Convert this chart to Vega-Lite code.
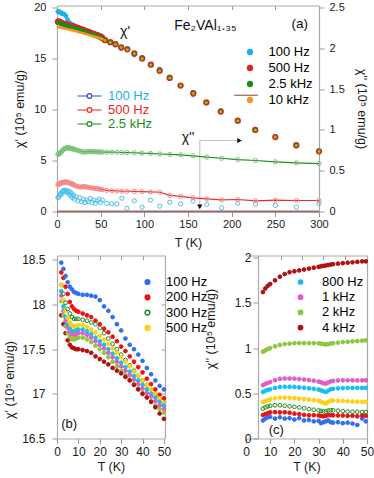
{
"$schema": "https://vega.github.io/schema/vega-lite/v6.json",
"padding": {"left": 3, "top": 1.5, "right": 0, "bottom": 0},
"background": "white",
"config": {
  "font": "Liberation Sans",
  "view": {"stroke": null},
  "axis": {"grid": false, "domainColor": "#aaaaaa", "domainWidth": 1.2, "tickColor": "#999999", "tickSize": 5, "labelColor": "#1a1a1a", "titleColor": "#1a1a1a", "titleFontWeight": "normal", "labelFontSize": 11, "titleFontSize": 12.5, "labelFont": "Liberation Sans", "titleFont": "Liberation Sans", "labelFlush": false},
  "legend": {"labelFont": "Liberation Sans", "labelFontSize": 13}
},
"datasets": {
  "chi1": [
    {"T":1,"a100":19.6,"b500":18.6,"c2500":18.5,"d10k":18.1},
    {"T":2,"a100":19.6,"b500":18.65,"c2500":18.55,"d10k":18.1},
    {"T":3,"a100":19.55,"b500":18.6,"c2500":18.5,"d10k":18.08},
    {"T":4,"a100":19.5,"b500":18.55,"c2500":18.45,"d10k":18.05},
    {"T":5,"a100":19.45,"b500":18.5,"c2500":18.4,"d10k":18.02},
    {"T":6,"a100":19.4,"b500":18.45,"c2500":18.35,"d10k":18.0},
    {"T":8,"a100":19.35,"b500":18.4,"c2500":18.3,"d10k":17.95},
    {"T":10,"a100":19.2,"b500":18.35,"c2500":18.25,"d10k":17.92},
    {"T":12,"a100":18.8,"b500":18.3,"c2500":18.2,"d10k":17.88},
    {"T":14,"a100":18.55,"b500":18.25,"c2500":18.15,"d10k":17.84},
    {"T":16,"a100":18.4,"b500":18.2,"c2500":18.1,"d10k":17.8},
    {"T":18,"a100":18.3,"b500":18.15,"c2500":18.05,"d10k":17.76},
    {"T":20,"a100":18.22,"b500":18.1,"c2500":18.0,"d10k":17.72},
    {"T":22,"a100":18.14,"b500":18.03,"c2500":17.93,"d10k":17.67},
    {"T":24,"a100":18.07,"b500":17.97,"c2500":17.87,"d10k":17.62},
    {"T":26,"a100":18.0,"b500":17.9,"c2500":17.8,"d10k":17.57},
    {"T":28,"a100":17.93,"b500":17.85,"c2500":17.75,"d10k":17.52},
    {"T":30,"a100":17.87,"b500":17.8,"c2500":17.7,"d10k":17.47},
    {"T":32,"a100":17.8,"b500":17.72,"c2500":17.62,"d10k":17.42},
    {"T":34,"a100":17.72,"b500":17.65,"c2500":17.55,"d10k":17.37},
    {"T":36,"a100":17.65,"b500":17.6,"c2500":17.5,"d10k":17.32},
    {"T":38,"a100":17.58,"b500":17.53,"c2500":17.43,"d10k":17.27},
    {"T":40,"a100":17.52,"b500":17.47,"c2500":17.37,"d10k":17.22},
    {"T":42,"a100":17.46,"b500":17.4,"c2500":17.3,"d10k":17.17},
    {"T":44,"a100":17.41,"b500":17.35,"c2500":17.25,"d10k":17.12},
    {"T":46,"a100":17.36,"b500":17.28,"c2500":17.18,"d10k":17.07},
    {"T":48,"a100":17.31,"b500":17.2,"c2500":17.1,"d10k":17.02},
    {"T":50,"a100":17.26,"b500":17.12,"c2500":17.03,"d10k":16.97},
    {"T":52,"a100":17.15,"b500":17.0,"c2500":16.93,"d10k":16.9},
    {"T":55,"a100":16.85,"b500":16.8,"c2500":16.8,"d10k":16.78},
    {"T":61,"a100":16.6,"b500":16.6,"c2500":16.6,"d10k":16.58},
    {"T":67,"a100":16.4,"b500":16.4,"c2500":16.4,"d10k":16.38},
    {"T":73.5,"a100":15.95,"b500":16.1,"c2500":16.1,"d10k":16.08},
    {"T":80.5,"a100":16.0,"b500":15.9,"c2500":15.9,"d10k":15.88},
    {"T":88.5,"a100":15.35,"b500":15.5,"c2500":15.5,"d10k":15.48},
    {"T":97.5,"a100":15.1,"b500":15.0,"c2500":15.0,"d10k":14.98},
    {"T":107.5,"a100":14.4,"b500":14.4,"c2500":14.4,"d10k":14.38},
    {"T":117.5,"a100":13.95,"b500":13.8,"c2500":13.8,"d10k":13.78},
    {"T":129,"a100":13.2,"b500":13.1,"c2500":13.1,"d10k":13.08},
    {"T":141.5,"a100":12.35,"b500":12.35,"c2500":12.35,"d10k":12.33},
    {"T":156,"a100":11.45,"b500":11.6,"c2500":11.6,"d10k":11.58},
    {"T":171,"a100":10.7,"b500":10.7,"c2500":10.7,"d10k":10.68},
    {"T":187.5,"a100":9.9,"b500":9.8,"c2500":9.8,"d10k":9.78},
    {"T":207,"a100":8.9,"b500":8.9,"c2500":8.9,"d10k":8.88},
    {"T":227,"a100":8.0,"b500":8.0,"c2500":8.0,"d10k":7.98},
    {"T":250,"a100":7.3,"b500":7.3,"c2500":7.3,"d10k":7.28},
    {"T":274,"a100":6.4,"b500":6.5,"c2500":6.5,"d10k":6.48},
    {"T":300,"a100":5.9,"b500":5.9,"c2500":5.9,"d10k":5.88}
  ],
  "chi2": [
    {"T":1,"a100":0.17,"b500":0.33,"c2500":0.70},
    {"T":2,"a100":0.18,"b500":0.335,"c2500":0.70},
    {"T":3,"a100":0.20,"b500":0.34,"c2500":0.71},
    {"T":4,"a100":0.22,"b500":0.345,"c2500":0.72},
    {"T":5,"a100":0.21,"b500":0.35,"c2500":0.735},
    {"T":6,"a100":0.24,"b500":0.355,"c2500":0.745},
    {"T":7,"a100":0.25,"b500":0.358,"c2500":0.755},
    {"T":8,"a100":0.26,"b500":0.36,"c2500":0.765},
    {"T":9,"a100":0.24,"b500":0.362,"c2500":0.772},
    {"T":10,"a100":0.26,"b500":0.362,"c2500":0.777},
    {"T":11,"a100":0.25,"b500":0.36,"c2500":0.78},
    {"T":12,"a100":0.23,"b500":0.358,"c2500":0.78},
    {"T":13,"a100":0.25,"b500":0.355,"c2500":0.78},
    {"T":14,"a100":0.21,"b500":0.352,"c2500":0.778},
    {"T":15,"a100":0.24,"b500":0.348,"c2500":0.776},
    {"T":16,"a100":0.19,"b500":0.343,"c2500":0.774},
    {"T":17,"a100":0.22,"b500":0.338,"c2500":0.77},
    {"T":18,"a100":0.17,"b500":0.333,"c2500":0.768},
    {"T":19,"a100":0.20,"b500":0.328,"c2500":0.765},
    {"T":20,"a100":0.15,"b500":0.322,"c2500":0.762},
    {"T":22,"a100":0.18,"b500":0.312,"c2500":0.755},
    {"T":24,"a100":0.13,"b500":0.305,"c2500":0.748},
    {"T":26,"a100":0.17,"b500":0.30,"c2500":0.742},
    {"T":28,"a100":0.12,"b500":0.30,"c2500":0.735},
    {"T":30,"a100":0.15,"b500":0.305,"c2500":0.73},
    {"T":32,"a100":0.11,"b500":0.303,"c2500":0.727},
    {"T":34,"a100":0.14,"b500":0.30,"c2500":0.735},
    {"T":36,"a100":0.12,"b500":0.297,"c2500":0.735},
    {"T":38,"a100":0.16,"b500":0.292,"c2500":0.735},
    {"T":40,"a100":0.11,"b500":0.289,"c2500":0.734},
    {"T":42,"a100":0.14,"b500":0.286,"c2500":0.733},
    {"T":44,"a100":0.10,"b500":0.282,"c2500":0.732},
    {"T":46,"a100":0.13,"b500":0.279,"c2500":0.731},
    {"T":48,"a100":0.15,"b500":0.276,"c2500":0.73},
    {"T":50,"a100":0.11,"b500":0.272,"c2500":0.729},
    {"T":52,"a100":0.14,"b500":0.268,"c2500":0.728},
    {"T":57,"a100":0.10,"b500":0.26,"c2500":0.727},
    {"T":62.7,"a100":0.094,"b500":0.256,"c2500":0.727},
    {"T":68.5,"a100":0.094,"b500":0.252,"c2500":0.726},
    {"T":74.2,"a100":0.163,"b500":0.25,"c2500":0.723},
    {"T":80,"a100":0.04,"b500":0.248,"c2500":0.722},
    {"T":88.5,"a100":0.13,"b500":0.246,"c2500":0.72},
    {"T":97.3,"a100":0.053,"b500":0.244,"c2500":0.715},
    {"T":107,"a100":0.139,"b500":0.24,"c2500":0.712},
    {"T":117.7,"a100":0.065,"b500":0.236,"c2500":0.705},
    {"T":129.2,"a100":0.114,"b500":0.197,"c2500":0.70},
    {"T":141.6,"a100":0.094,"b500":0.185,"c2500":0.695},
    {"T":155.8,"a100":0.126,"b500":0.168,"c2500":0.683},
    {"T":171.5,"a100":0.086,"b500":0.155,"c2500":0.666},
    {"T":188.5,"a100":0.045,"b500":0.143,"c2500":0.653},
    {"T":207,"a100":0.10,"b500":0.147,"c2500":0.637},
    {"T":227.3,"a100":0.09,"b500":0.131,"c2500":0.625},
    {"T":250,"a100":0.074,"b500":0.139,"c2500":0.609},
    {"T":274.2,"a100":0.053,"b500":0.135,"c2500":0.597},
    {"T":300,"a100":0.10,"b500":0.135,"c2500":0.588}
  ],
  "chi2hf": [{"T":0,"v":0},{"T":100,"v":0},{"T":200,"v":0},{"T":300,"v":0}],
  "pb": [
    {"T":2,"100 Hz":18.47,"200 Hz":18.36,"300 Hz":18.22,"500 Hz":18.22,"800 Hz":18.15,"1 kHz":18.10,"2 kHz":18.04,"4 kHz":17.88},
    {"T":3,"100 Hz":18.40,"200 Hz":18.30,"300 Hz":18.12,"500 Hz":18.05,"800 Hz":17.98,"1 kHz":17.93,"2 kHz":17.88,"4 kHz":17.78},
    {"T":4,"100 Hz":18.32,"200 Hz":18.20,"300 Hz":18.02,"500 Hz":17.93,"800 Hz":17.86,"1 kHz":17.82,"2 kHz":17.76,"4 kHz":17.68},
    {"T":5,"100 Hz":18.25,"200 Hz":18.12,"300 Hz":17.95,"500 Hz":17.85,"800 Hz":17.78,"1 kHz":17.74,"2 kHz":17.68,"4 kHz":17.60},
    {"T":6,"100 Hz":18.20,"200 Hz":18.03,"300 Hz":17.90,"500 Hz":17.80,"800 Hz":17.73,"1 kHz":17.70,"2 kHz":17.64,"4 kHz":17.55},
    {"T":7,"100 Hz":18.17,"200 Hz":17.98,"300 Hz":17.86,"500 Hz":17.77,"800 Hz":17.70,"1 kHz":17.67,"2 kHz":17.61,"4 kHz":17.52},
    {"T":8,"100 Hz":18.14,"200 Hz":17.95,"300 Hz":17.84,"500 Hz":17.75,"800 Hz":17.70,"1 kHz":17.66,"2 kHz":17.61,"4 kHz":17.51},
    {"T":9,"100 Hz":18.13,"200 Hz":17.93,"300 Hz":17.84,"500 Hz":17.76,"800 Hz":17.71,"1 kHz":17.67,"2 kHz":17.62,"4 kHz":17.50},
    {"T":10,"100 Hz":18.12,"200 Hz":17.92,"300 Hz":17.84,"500 Hz":17.77,"800 Hz":17.72,"1 kHz":17.68,"2 kHz":17.63,"4 kHz":17.50},
    {"T":12,"100 Hz":18.11,"200 Hz":17.90,"300 Hz":17.83,"500 Hz":17.77,"800 Hz":17.72,"1 kHz":17.68,"2 kHz":17.63,"4 kHz":17.49},
    {"T":14,"100 Hz":18.11,"200 Hz":17.88,"300 Hz":17.82,"500 Hz":17.75,"800 Hz":17.70,"1 kHz":17.66,"2 kHz":17.61,"4 kHz":17.48},
    {"T":16,"100 Hz":18.10,"200 Hz":17.86,"300 Hz":17.80,"500 Hz":17.72,"800 Hz":17.67,"1 kHz":17.63,"2 kHz":17.58,"4 kHz":17.46},
    {"T":18,"100 Hz":18.09,"200 Hz":17.82,"300 Hz":17.78,"500 Hz":17.69,"800 Hz":17.63,"1 kHz":17.59,"2 kHz":17.54,"4 kHz":17.42},
    {"T":20,"100 Hz":18.05,"200 Hz":17.78,"300 Hz":17.74,"500 Hz":17.65,"800 Hz":17.59,"1 kHz":17.55,"2 kHz":17.50,"4 kHz":17.39},
    {"T":22,"100 Hz":17.98,"200 Hz":17.73,"300 Hz":17.68,"500 Hz":17.61,"800 Hz":17.55,"1 kHz":17.51,"2 kHz":17.46,"4 kHz":17.36},
    {"T":24,"100 Hz":17.93,"200 Hz":17.69,"300 Hz":17.62,"500 Hz":17.56,"800 Hz":17.50,"1 kHz":17.46,"2 kHz":17.41,"4 kHz":17.33},
    {"T":26,"100 Hz":17.86,"200 Hz":17.64,"300 Hz":17.56,"500 Hz":17.51,"800 Hz":17.45,"1 kHz":17.41,"2 kHz":17.36,"4 kHz":17.29},
    {"T":28,"100 Hz":17.78,"200 Hz":17.59,"300 Hz":17.50,"500 Hz":17.46,"800 Hz":17.40,"1 kHz":17.36,"2 kHz":17.31,"4 kHz":17.26},
    {"T":30,"100 Hz":17.71,"200 Hz":17.53,"300 Hz":17.44,"500 Hz":17.41,"800 Hz":17.35,"1 kHz":17.31,"2 kHz":17.26,"4 kHz":17.23},
    {"T":32,"100 Hz":17.62,"200 Hz":17.48,"300 Hz":17.38,"500 Hz":17.36,"800 Hz":17.30,"1 kHz":17.26,"2 kHz":17.21,"4 kHz":17.19},
    {"T":34,"100 Hz":17.55,"200 Hz":17.42,"300 Hz":17.32,"500 Hz":17.31,"800 Hz":17.25,"1 kHz":17.21,"2 kHz":17.16,"4 kHz":17.15},
    {"T":36,"100 Hz":17.50,"200 Hz":17.36,"300 Hz":17.26,"500 Hz":17.25,"800 Hz":17.20,"1 kHz":17.16,"2 kHz":17.11,"4 kHz":17.10},
    {"T":38,"100 Hz":17.44,"200 Hz":17.30,"300 Hz":17.20,"500 Hz":17.20,"800 Hz":17.15,"1 kHz":17.11,"2 kHz":17.06,"4 kHz":17.05},
    {"T":40,"100 Hz":17.37,"200 Hz":17.24,"300 Hz":17.15,"500 Hz":17.15,"800 Hz":17.10,"1 kHz":17.06,"2 kHz":17.01,"4 kHz":17.00},
    {"T":42,"100 Hz":17.29,"200 Hz":17.17,"300 Hz":17.10,"500 Hz":17.10,"800 Hz":17.05,"1 kHz":17.01,"2 kHz":16.96,"4 kHz":16.96},
    {"T":44,"100 Hz":17.22,"200 Hz":17.11,"300 Hz":17.05,"500 Hz":17.05,"800 Hz":17.00,"1 kHz":16.97,"2 kHz":16.92,"4 kHz":16.91},
    {"T":46,"100 Hz":17.15,"200 Hz":17.05,"300 Hz":17.00,"500 Hz":17.00,"800 Hz":16.96,"1 kHz":16.92,"2 kHz":16.87,"4 kHz":16.85},
    {"T":48,"100 Hz":17.09,"200 Hz":16.99,"300 Hz":16.95,"500 Hz":16.95,"800 Hz":16.91,"1 kHz":16.87,"2 kHz":16.83,"4 kHz":16.78},
    {"T":50,"100 Hz":17.05,"200 Hz":16.95,"300 Hz":16.90,"500 Hz":16.90,"800 Hz":16.87,"1 kHz":16.83,"2 kHz":16.79,"4 kHz":16.72}
  ],
  "pc": [
    {"T":7,"100 Hz":0.20,"200 Hz":0.26,"300 Hz":0.33,"500 Hz":0.405,"800 Hz":0.515,"1 kHz":0.59,"2 kHz":0.96,"4 kHz":1.62},
    {"T":8,"100 Hz":0.22,"200 Hz":0.27,"300 Hz":0.345,"500 Hz":0.415,"800 Hz":0.528,"1 kHz":0.605,"2 kHz":0.975,"4 kHz":1.66},
    {"T":9,"100 Hz":0.235,"200 Hz":0.28,"300 Hz":0.355,"500 Hz":0.425,"800 Hz":0.538,"1 kHz":0.615,"2 kHz":0.99,"4 kHz":1.69},
    {"T":10,"100 Hz":0.24,"200 Hz":0.29,"300 Hz":0.362,"500 Hz":0.432,"800 Hz":0.545,"1 kHz":0.625,"2 kHz":1.0,"4 kHz":1.71},
    {"T":12,"100 Hz":0.22,"200 Hz":0.292,"300 Hz":0.368,"500 Hz":0.445,"800 Hz":0.56,"1 kHz":0.645,"2 kHz":1.02,"4 kHz":1.75},
    {"T":14,"100 Hz":0.235,"200 Hz":0.29,"300 Hz":0.368,"500 Hz":0.452,"800 Hz":0.57,"1 kHz":0.66,"2 kHz":1.035,"4 kHz":1.79},
    {"T":16,"100 Hz":0.22,"200 Hz":0.29,"300 Hz":0.362,"500 Hz":0.452,"800 Hz":0.572,"1 kHz":0.663,"2 kHz":1.045,"4 kHz":1.82},
    {"T":18,"100 Hz":0.225,"200 Hz":0.285,"300 Hz":0.356,"500 Hz":0.45,"800 Hz":0.572,"1 kHz":0.663,"2 kHz":1.05,"4 kHz":1.84},
    {"T":20,"100 Hz":0.21,"200 Hz":0.275,"300 Hz":0.35,"500 Hz":0.447,"800 Hz":0.57,"1 kHz":0.662,"2 kHz":1.055,"4 kHz":1.85},
    {"T":22,"100 Hz":0.225,"200 Hz":0.27,"300 Hz":0.343,"500 Hz":0.442,"800 Hz":0.566,"1 kHz":0.658,"2 kHz":1.056,"4 kHz":1.86},
    {"T":24,"100 Hz":0.20,"200 Hz":0.262,"300 Hz":0.335,"500 Hz":0.436,"800 Hz":0.561,"1 kHz":0.652,"2 kHz":1.056,"4 kHz":1.87},
    {"T":26,"100 Hz":0.205,"200 Hz":0.257,"300 Hz":0.325,"500 Hz":0.43,"800 Hz":0.556,"1 kHz":0.646,"2 kHz":1.056,"4 kHz":1.88},
    {"T":28,"100 Hz":0.19,"200 Hz":0.258,"300 Hz":0.318,"500 Hz":0.424,"800 Hz":0.55,"1 kHz":0.64,"2 kHz":1.055,"4 kHz":1.89},
    {"T":30,"100 Hz":0.195,"200 Hz":0.255,"300 Hz":0.31,"500 Hz":0.417,"800 Hz":0.542,"1 kHz":0.63,"2 kHz":1.053,"4 kHz":1.90},
    {"T":31,"100 Hz":0.17,"200 Hz":0.25,"300 Hz":0.305,"500 Hz":0.408,"800 Hz":0.533,"1 kHz":0.622,"2 kHz":1.05,"4 kHz":1.905},
    {"T":32,"100 Hz":0.18,"200 Hz":0.245,"300 Hz":0.30,"500 Hz":0.395,"800 Hz":0.522,"1 kHz":0.612,"2 kHz":1.045,"4 kHz":1.91},
    {"T":33,"100 Hz":0.19,"200 Hz":0.25,"300 Hz":0.298,"500 Hz":0.387,"800 Hz":0.515,"1 kHz":0.607,"2 kHz":1.04,"4 kHz":1.915},
    {"T":34,"100 Hz":0.20,"200 Hz":0.26,"300 Hz":0.31,"500 Hz":0.405,"800 Hz":0.53,"1 kHz":0.62,"2 kHz":1.045,"4 kHz":1.92},
    {"T":35,"100 Hz":0.18,"200 Hz":0.258,"300 Hz":0.313,"500 Hz":0.418,"800 Hz":0.545,"1 kHz":0.632,"2 kHz":1.05,"4 kHz":1.925},
    {"T":36,"100 Hz":0.175,"200 Hz":0.257,"300 Hz":0.312,"500 Hz":0.42,"800 Hz":0.55,"1 kHz":0.638,"2 kHz":1.055,"4 kHz":1.93},
    {"T":38,"100 Hz":0.18,"200 Hz":0.255,"300 Hz":0.308,"500 Hz":0.418,"800 Hz":0.555,"1 kHz":0.642,"2 kHz":1.06,"4 kHz":1.935},
    {"T":40,"100 Hz":0.17,"200 Hz":0.255,"300 Hz":0.303,"500 Hz":0.416,"800 Hz":0.558,"1 kHz":0.644,"2 kHz":1.067,"4 kHz":1.94},
    {"T":42,"100 Hz":0.175,"200 Hz":0.25,"300 Hz":0.298,"500 Hz":0.413,"800 Hz":0.56,"1 kHz":0.644,"2 kHz":1.07,"4 kHz":1.945},
    {"T":44,"100 Hz":0.165,"200 Hz":0.252,"300 Hz":0.296,"500 Hz":0.41,"800 Hz":0.56,"1 kHz":0.644,"2 kHz":1.075,"4 kHz":1.95},
    {"T":46,"100 Hz":0.15,"200 Hz":0.245,"300 Hz":0.295,"500 Hz":0.408,"800 Hz":0.56,"1 kHz":0.644,"2 kHz":1.078,"4 kHz":1.955},
    {"T":48,"100 Hz":0.22,"200 Hz":0.255,"300 Hz":0.294,"500 Hz":0.406,"800 Hz":0.56,"1 kHz":0.644,"2 kHz":1.083,"4 kHz":1.96},
    {"T":49.5,"100 Hz":0.19,"200 Hz":0.25,"300 Hz":0.294,"500 Hz":0.405,"800 Hz":0.56,"1 kHz":0.644,"2 kHz":1.086,"4 kHz":1.96}
  ]
},
"bounds": "flush",
"spacing": 44,
"resolve": {"scale": {"x": "independent", "y": "independent", "color": "independent", "fill": "independent", "stroke": "independent"}},
"vconcat": [
  {
    "width": 262,
    "height": 206,
    "resolve": {"scale": {"y": "independent", "color": "independent", "fill": "independent", "stroke": "independent"}, "axis": {"x": "independent", "y": "independent"}},
    "layer": [
      {
        "layer": [
          {
            "data": {"name": "chi1"},
            "transform": [{"fold": ["a100", "b500", "c2500", "d10k"], "as": ["f", "v"]}, {"filter": "datum.f == 'a100'"}],
            "mark": {"type": "circle", "opacity": 1, "size": 24},
            "encoding": {
              "x": {"field": "T", "type": "quantitative", "scale": {"domain": [0, 300], "nice": false}, "axis": {"orient": "bottom", "values": [0, 50, 100, 150, 200, 250, 300], "title": "T (K)", "labelPadding": 1.5, "titlePadding": 7}},
              "y": {"field": "v", "type": "quantitative", "scale": {"domain": [0, 20.2], "nice": false}, "axis": {"orient": "left", "values": [0, 5, 10, 15, 20], "title": "χ' (10⁵ emu/g)", "labelPadding": 6, "titlePadding": 7}},
              "fill": {"field": "f", "type": "nominal", "scale": {"domain": ["a100", "b500", "c2500", "d10k"], "range": ["#1ab0e8", "#ee1c24", "#1a8c1a", "#f7941d"]},
                "legend": {"title": null, "orient": "none", "legendX": 186.5, "legendY": 40, "padding": 0, "labelFontSize": 13, "labelOffset": 12, "rowPadding": 2, "symbolSize": 40, "symbolType": "circle",
                  "labelExpr": "datum.value=='a100'?'100 Hz':datum.value=='b500'?'500 Hz':datum.value=='c2500'?'2.5 kHz':'10 kHz'",
                  "encode": {
                    "labels": {"update": {"fill": {"signal": "datum.value=='a100'?'#1ab0e8':datum.value=='b500'?'#ee1c24':datum.value=='c2500'?'#1a8c1a':'#f7941d'"}}},
                    "symbols": {"update": {"size": {"signal": "datum.value=='b500'?42:datum.value=='d10k'?12:24"}}}
                  }}}
            }
          },
          {
            "data": {"name": "chi1"},
            "transform": [{"fold": ["a100", "b500", "c2500", "d10k"], "as": ["f", "v"]}, {"filter": "datum.f == 'b500'"}],
            "mark": {"type": "circle", "opacity": 1, "size": 40, "color": "#ee1c24"},
            "encoding": {
              "x": {"field": "T", "type": "quantitative", "scale": {"domain": [0, 300], "nice": false}},
              "y": {"field": "v", "type": "quantitative", "scale": {"domain": [0, 20.2], "nice": false}}
            }
          },
          {
            "data": {"name": "chi1"},
            "transform": [{"fold": ["a100", "b500", "c2500", "d10k"], "as": ["f", "v"]}, {"filter": "datum.f == 'c2500'"}],
            "mark": {"type": "circle", "opacity": 1, "size": 20, "color": "#1a8c1a"},
            "encoding": {
              "x": {"field": "T", "type": "quantitative", "scale": {"domain": [0, 300], "nice": false}},
              "y": {"field": "v", "type": "quantitative", "scale": {"domain": [0, 20.2], "nice": false}}
            }
          },
          {
            "data": {"name": "chi1"},
            "transform": [{"fold": ["a100", "b500", "c2500", "d10k"], "as": ["f", "v"]}, {"filter": "datum.f == 'd10k'"}],
            "mark": {"type": "circle", "opacity": 1, "size": 8, "color": "#f7941d"},
            "encoding": {
              "x": {"field": "T", "type": "quantitative", "scale": {"domain": [0, 300], "nice": false}},
              "y": {"field": "v", "type": "quantitative", "scale": {"domain": [0, 20.2], "nice": false}}
            }
          },
          {
            "data": {"values": [{}]},
            "mark": {"type": "rule", "color": "#a05a5a", "strokeWidth": 1.2},
            "encoding": {"x": {"datum": 203, "type": "quantitative", "scale": {"domain": [0, 300], "nice": false}}, "x2": {"datum": 230}, "y": {"datum": 11.4, "type": "quantitative", "scale": {"domain": [0, 20.2], "nice": false}}}
          },
          {
            "data": {"values": [{}]},
            "mark": {"type": "text", "fontSize": 14, "color": "#111111"},
            "encoding": {"x": {"datum": 78, "type": "quantitative", "scale": {"domain": [0, 300], "nice": false}}, "y": {"datum": 17.6, "type": "quantitative", "scale": {"domain": [0, 20.2], "nice": false}}, "text": {"value": "χ'"}}
          },
          {
            "data": {"values": [{}]},
            "mark": {"type": "text", "fontSize": 14, "color": "#111111"},
            "encoding": {"x": {"datum": 170, "type": "quantitative", "scale": {"domain": [0, 300], "nice": false}}, "y": {"datum": 18.2, "type": "quantitative", "scale": {"domain": [0, 20.2], "nice": false}}, "text": {"value": "Fe₂VAl₁.₃₅"}}
          },
          {
            "data": {"values": [{}]},
            "mark": {"type": "text", "fontSize": 13.5, "color": "#111111"},
            "encoding": {"x": {"datum": 278, "type": "quantitative", "scale": {"domain": [0, 300], "nice": false}}, "y": {"datum": 18.4, "type": "quantitative", "scale": {"domain": [0, 20.2], "nice": false}}, "text": {"value": "(a)"}}
          },
          {
            "data": {"values": [{}]},
            "mark": {"type": "text", "fontSize": 14, "color": "#111111"},
            "encoding": {"x": {"datum": 150, "type": "quantitative", "scale": {"domain": [0, 300], "nice": false}}, "y": {"datum": 7.2, "type": "quantitative", "scale": {"domain": [0, 20.2], "nice": false}}, "text": {"value": "χ''"}}
          },
          {
            "data": {"values": [{}]},
            "mark": {"type": "rule", "color": "#c4c4c4", "strokeWidth": 1.2},
            "encoding": {"x": {"datum": 163.5, "type": "quantitative", "scale": {"domain": [0, 300], "nice": false}}, "x2": {"datum": 208}, "y": {"datum": 6.96, "type": "quantitative", "scale": {"domain": [0, 20.2], "nice": false}}}
          },
          {
            "data": {"values": [{}]},
            "mark": {"type": "rule", "color": "#c4c4c4", "strokeWidth": 1.2},
            "encoding": {"x": {"datum": 163.5, "type": "quantitative", "scale": {"domain": [0, 300], "nice": false}}, "y": {"datum": 6.96, "type": "quantitative", "scale": {"domain": [0, 20.2], "nice": false}}, "y2": {"datum": 0.5}}
          },
          {
            "data": {"values": [{}]},
            "mark": {"type": "point", "shape": "triangle-right", "filled": true, "color": "#111111", "size": 28, "opacity": 1},
            "encoding": {"x": {"datum": 209, "type": "quantitative", "scale": {"domain": [0, 300], "nice": false}}, "y": {"datum": 6.96, "type": "quantitative", "scale": {"domain": [0, 20.2], "nice": false}}}
          },
          {
            "data": {"values": [{}]},
            "mark": {"type": "point", "shape": "triangle-down", "filled": true, "color": "#111111", "size": 28, "opacity": 1},
            "encoding": {"x": {"datum": 163.5, "type": "quantitative", "scale": {"domain": [0, 300], "nice": false}}, "y": {"datum": 0.45, "type": "quantitative", "scale": {"domain": [0, 20.2], "nice": false}}}
          }
        ]
      },
      {
        "encoding": {
          "x": {"field": "T", "type": "quantitative", "scale": {"domain": [0, 300], "nice": false}, "axis": {"orient": "top", "labels": false, "title": null, "tickSize": -4, "values": [0, 50, 100, 150, 200, 250, 300]}},
          "y": {"field": "v", "type": "quantitative", "scale": {"domain": [0, 2.525], "nice": false}, "axis": {"orient": "right", "values": [0, 0.5, 1, 1.5, 2, 2.5], "format": "~g", "title": "χ'' (10⁵ emu/g)", "labelPadding": 5, "titlePadding": 10}}
        },
        "layer": [
          {
            "data": {"name": "chi2"},
            "transform": [{"fold": ["a100", "b500", "c2500"], "as": ["f", "v"]}, {"filter": "datum.f != 'a100'"}],
            "mark": {"type": "line", "strokeWidth": 1.2},
            "encoding": {
              "color": {"field": "f", "type": "nominal", "scale": {"domain": ["a100", "b500", "c2500"], "range": ["#3a46d8", "#ee2b2b", "#1e8c1e"]},
                "legend": {"title": null, "orient": "none", "legendX": 26, "legendY": 84, "padding": 0, "symbolType": "M-3,0L-0.6,0M0.6,0L3,0M0.6,0A0.6,0.6,0,1,1,-0.6,0A0.6,0.6,0,1,1,0.6,0", "symbolSize": 64, "symbolStrokeWidth": 1.2, "labelFontSize": 13, "labelOffset": 12, "rowPadding": 0,
                  "labelExpr": "datum.value=='a100'?'100 Hz':datum.value=='b500'?'500 Hz':'2.5 kHz'",
                  "encode": {"labels": {"update": {"fill": {"signal": "datum.value=='a100'?'#1ab0e8':datum.value=='b500'?'#ee1c24':'#1a8c1a'"}}}, "symbols": {"update": {"fill": {"value": "transparent"}}}}}}
            }
          },
          {
            "data": {"name": "chi2"},
            "transform": [{"fold": ["a100", "b500", "c2500"], "as": ["f", "v"]}],
            "mark": {"type": "point", "filled": false, "size": 18, "strokeWidth": 1, "opacity": 1},
            "encoding": {
              "stroke": {"field": "f", "type": "nominal", "scale": {"domain": ["a100", "b500", "c2500"], "range": ["#4cc0f0", "#f58a8a", "#7cc47c"]}, "legend": null}
            }
          },
          {
            "data": {"name": "chi2hf"},
            "mark": {"type": "line", "color": "#a06a6a", "strokeWidth": 2},
            "encoding": {}
          }
        ]
      }
    ]
  },
  {
    "hconcat": [
      {
        "width": 108,
        "height": 183,
        "resolve": {"axis": {"x": "independent", "y": "independent"}},
        "layer": [
          {
            "data": {"name": "pb"},
            "transform": [{"fold": ["100 Hz", "200 Hz", "300 Hz", "500 Hz", "800 Hz", "1 kHz", "2 kHz", "4 kHz"], "as": ["f", "v"]}],
            "mark": {"type": "point", "size": 14, "strokeWidth": 1, "opacity": 1},
            "encoding": {
              "x": {"field": "T", "type": "quantitative", "scale": {"domain": [0, 50.5], "nice": false}, "axis": {"values": [0, 10, 20, 30, 40, 50], "title": "T (K)", "labelFontSize": 12, "labelPadding": 3, "titlePadding": 3}},
              "y": {"field": "v", "type": "quantitative", "scale": {"domain": [16.5, 18.55], "nice": false}, "axis": {"values": [16.5, 17, 17.5, 18, 18.5], "format": "~g", "title": "χ' (10⁵ emu/g)", "labelFontSize": 12, "labelPadding": 7, "titlePadding": 5, "titleY": 124}},
              "fill": {"field": "f", "type": "nominal", "scale": {"domain": ["100 Hz", "200 Hz", "300 Hz", "500 Hz", "800 Hz", "1 kHz", "2 kHz", "4 kHz"], "range": ["#2f6ff0", "#ee1111", "transparent", "#fcd116", "#14c0f0", "#e05cc8", "#8dc63f", "#b01010"]},
                "legend": {"title": null, "orient": "none", "legendX": 84, "legendY": 20, "padding": 0, "values": ["100 Hz", "200 Hz", "300 Hz", "500 Hz"], "labelFontSize": 13, "labelOffset": 12, "rowPadding": 1.3, "symbolSize": 22,
                  "encode": {"labels": {"update": {"fill": {"signal": "datum.value=='100 Hz'?'#2f6ff0':datum.value=='200 Hz'?'#ee1111':datum.value=='300 Hz'?'#1e8c1e':'#f5c800'"}}}}}},
              "stroke": {"field": "f", "type": "nominal", "scale": {"domain": ["100 Hz", "200 Hz", "300 Hz", "500 Hz", "800 Hz", "1 kHz", "2 kHz", "4 kHz"], "range": ["#2f6ff0", "#ee1111", "#1e8c1e", "#fcd116", "#14c0f0", "#e05cc8", "#8dc63f", "#b01010"]},
                "legend": {"title": null, "orient": "none", "legendX": 84, "legendY": 20, "padding": 0, "values": ["100 Hz", "200 Hz", "300 Hz", "500 Hz"], "labelFontSize": 13, "labelOffset": 12, "rowPadding": 1.3, "symbolSize": 22}}
            }
          },
          {
            "data": {"values": [{}]},
            "mark": {"type": "text", "fontSize": 13, "color": "#111111"},
            "encoding": {
              "x": {"datum": 5.7, "type": "quantitative", "scale": {"domain": [0, 50.5], "nice": false}, "axis": {"orient": "top", "labels": false, "title": null, "tickSize": -4, "values": [10, 20, 30, 40]}},
              "y": {"datum": 16.66, "type": "quantitative", "scale": {"domain": [16.5, 18.55], "nice": false}, "axis": {"orient": "right", "labels": false, "title": null, "tickSize": -4, "values": [17, 17.5, 18]}},
              "text": {"value": "(b)"}
            }
          }
        ]
      },
      {
        "width": 121,
        "height": 183,
        "resolve": {"axis": {"x": "independent", "y": "independent"}},
        "layer": [
          {
            "data": {"name": "pc"},
            "transform": [{"fold": ["100 Hz", "200 Hz", "300 Hz", "500 Hz", "800 Hz", "1 kHz", "2 kHz", "4 kHz"], "as": ["f", "v"]}],
            "mark": {"type": "point", "size": 14, "strokeWidth": 1, "opacity": 1},
            "encoding": {
              "x": {"field": "T", "type": "quantitative", "scale": {"domain": [0, 50], "nice": false}, "axis": {"values": [0, 10, 20, 30, 40, 50], "title": "T (K)", "labelFontSize": 12, "labelPadding": 3, "titlePadding": 3}},
              "y": {"field": "v", "type": "quantitative", "scale": {"domain": [0, 2.025], "nice": false}, "axis": {"values": [0, 0.5, 1, 1.5, 2], "format": "~g", "title": "χ'' (10⁵ emu/g)", "labelFontSize": 12, "labelPadding": 2, "offset": -12, "titleX": -41, "titleY": 73}},
              "fill": {"field": "f", "type": "nominal", "scale": {"domain": ["100 Hz", "200 Hz", "300 Hz", "500 Hz", "800 Hz", "1 kHz", "2 kHz", "4 kHz"], "range": ["#2f6ff0", "#ee1111", "transparent", "#fcd116", "#14c0f0", "#e05cc8", "#8dc63f", "#b01010"]},
                "legend": {"title": null, "orient": "none", "legendX": 48, "legendY": 20, "padding": 0, "values": ["800 Hz", "1 kHz", "2 kHz", "4 kHz"], "labelFontSize": 13, "labelOffset": 15, "rowPadding": 1.2, "symbolSize": 18,
                  "encode": {"labels": {"update": {"fill": {"signal": "datum.value=='800 Hz'?'#14c0f0':datum.value=='1 kHz'?'#e05cc8':datum.value=='2 kHz'?'#8dc63f':'#c01010'"}}}}}},
              "stroke": {"field": "f", "type": "nominal", "scale": {"domain": ["100 Hz", "200 Hz", "300 Hz", "500 Hz", "800 Hz", "1 kHz", "2 kHz", "4 kHz"], "range": ["#2f6ff0", "#ee1111", "#1e8c1e", "#fcd116", "#14c0f0", "#e05cc8", "#8dc63f", "#b01010"]},
                "legend": {"title": null, "orient": "none", "legendX": 48, "legendY": 20, "padding": 0, "values": ["800 Hz", "1 kHz", "2 kHz", "4 kHz"], "labelFontSize": 13, "labelOffset": 15, "rowPadding": 1.2, "symbolSize": 18}}
            }
          },
          {
            "data": {"values": [{}]},
            "mark": {"type": "text", "fontSize": 13, "color": "#111111"},
            "encoding": {
              "x": {"datum": 12.5, "type": "quantitative", "scale": {"domain": [0, 50], "nice": false}, "axis": {"orient": "top", "labels": false, "title": null, "tickSize": -4, "values": [14.5, 23.3, 31.7, 40.9]}},
              "y": {"datum": 0.09, "type": "quantitative", "scale": {"domain": [0, 2.025], "nice": false}, "axis": {"orient": "right", "labels": false, "title": null, "ticks": false}},
              "text": {"value": "(c)"}
            }
          }
        ]
      }
    ],
    "spacing": 81,
    "bounds": "flush",
    "resolve": {"scale": {"x": "independent", "y": "independent", "fill": "independent", "stroke": "independent"}}
  }
]
}
